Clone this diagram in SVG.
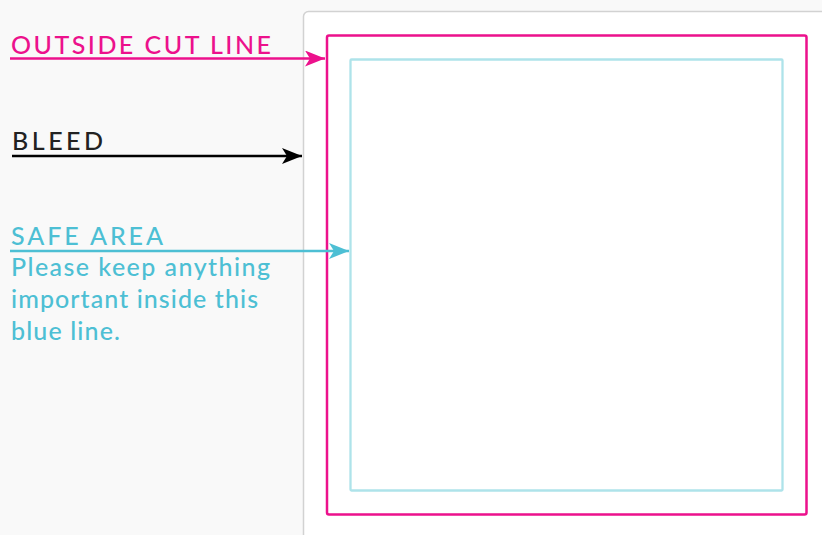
<svg xmlns="http://www.w3.org/2000/svg" width="822" height="535" viewBox="0 0 822 535">
<defs>
<style>
.lbl{font-family:Lato,"Open Sans","Liberation Sans",sans-serif;font-size:25px;font-weight:500;letter-spacing:2px}
.body{font-family:Lato,"Open Sans","Liberation Sans",sans-serif;font-size:25px;font-weight:500;fill:#4dbfd4}
</style>
<marker id="mp" markerWidth="20" markerHeight="16" refX="20" refY="8" orient="auto" markerUnits="userSpaceOnUse"><path d="M0,0 L20,8 L0,16 L5,8 Z" fill="#ec118c"/></marker>
<marker id="mk" markerWidth="20" markerHeight="16" refX="20" refY="8" orient="auto" markerUnits="userSpaceOnUse"><path d="M0,0 L20,8 L0,16 L5,8 Z" fill="#000"/></marker>
<marker id="mb" markerWidth="20" markerHeight="16" refX="20" refY="8" orient="auto" markerUnits="userSpaceOnUse"><path d="M0,0 L20,8 L0,16 L5,8 Z" fill="#4dbfd4"/></marker>
</defs>
<rect width="822" height="535" fill="#f9f9f9"/>
<g id="paper">
<rect x="303.5" y="11.5" width="530" height="540" rx="5" fill="#fff" stroke="#d2d2d2" stroke-width="1.5"/>
</g>
<g id="cutline">
<rect x="327" y="35.5" width="479.5" height="479" rx="2" fill="none" stroke="#ec118c" stroke-width="2.5"/>
</g>
<g id="safearea">
<rect x="350.5" y="59.5" width="432" height="431" rx="1" fill="none" stroke="#aee3ea" stroke-width="2.3"/>
</g>
<g id="labels">
<text class="lbl" x="11" y="53.5" fill="#ec118c" textLength="262">OUTSIDE CUT LINE</text>
<text class="lbl" x="12" y="149.5" fill="#222" textLength="93">BLEED</text>
<text class="lbl" x="11" y="244.5" fill="#4dbfd4" textLength="154">SAFE AREA</text>
<text class="body" x="11" y="276" textLength="259">Please keep anything</text>
<text class="body" x="11" y="308" textLength="247">important inside this</text>
<text class="body" x="11" y="340" textLength="109">blue line.</text>
</g>
<g id="connectors" fill="none" stroke-width="2.5">
<line x1="10" y1="58.5" x2="325" y2="58.5" stroke="#ec118c" marker-end="url(#mp)"/>
<line x1="12" y1="156" x2="302" y2="156" stroke="#000" marker-end="url(#mk)"/>
<line x1="10" y1="251" x2="349" y2="251" stroke="#4dbfd4" marker-end="url(#mb)"/>
</g>
</svg>
